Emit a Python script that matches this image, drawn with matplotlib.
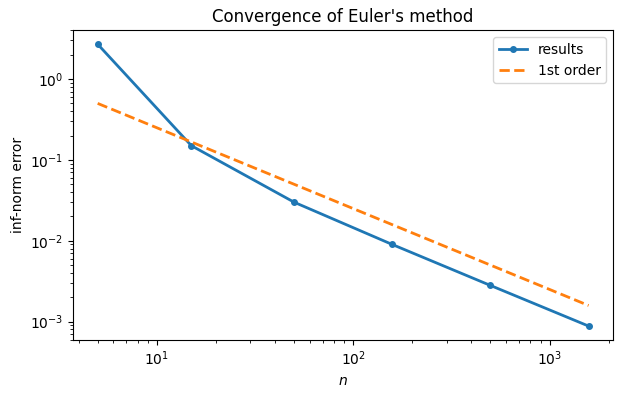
import matplotlib
matplotlib.use("Agg")
import matplotlib.pyplot as plt

n = [5, 15, 50, 158, 500, 1581]
err = [2.7, 0.15, 0.030, 0.0090, 0.0028, 0.00088]
ref = [0.5, 0.5 * 5 / 15, 0.5 * 5 / 50, 0.5 * 5 / 158, 0.5 * 5 / 500, 0.5 * 5 / 1581]

fig, ax = plt.subplots(figsize=(6.25, 3.96), dpi=100)
ax.loglog(n, err, "o-", lw=2, ms=4, label="results")
ax.loglog(n, ref, "--", lw=2, label="1st order")
ax.set_xlabel("$n$")
ax.set_ylabel("inf-norm error")
ax.set_title("Convergence of Euler's method")
ax.legend()
fig.subplots_adjust(left=0.117, right=0.981, top=0.924, bottom=0.141)
fig.savefig("out.png", dpi=100)
